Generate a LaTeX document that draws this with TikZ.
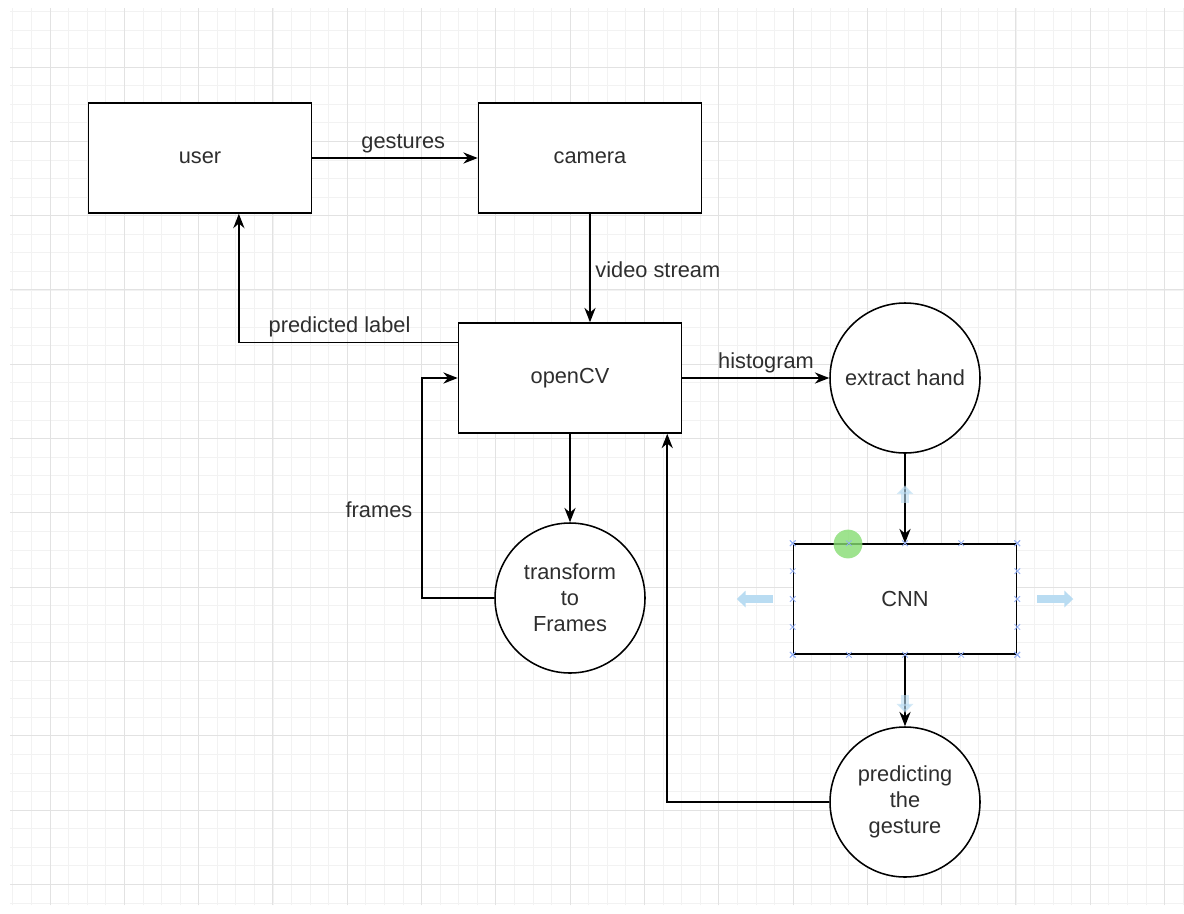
\documentclass[tikz,border=0pt]{standalone}
\usepackage{fontspec}
\setmainfont{Liberation Sans}
\usetikzlibrary{arrows.meta, positioning, calc}
\definecolor{gridMinor}{HTML}{F2F2F2}
\definecolor{gridMajor}{HTML}{E2E2E2}
\definecolor{selBlue}{HTML}{B9DCF2}
\definecolor{selGreen}{HTML}{86DD72}
\definecolor{txtGray}{HTML}{2E2E2E}

\begin{document}
\begin{tikzpicture}[
    every node/.style={font=\fontsize{15.5}{18.5}\selectfont, text=txtGray},
    block/.style={draw, line width=1.1pt, fill=white, minimum height=27.5mm, minimum width=55.75mm},
    proc/.style={draw, circle, line width=1.1pt, fill=white, minimum size=37.5mm, align=center, inner sep=0pt},
    flow/.style={-{Stealth[length=3.6mm, width=2.8mm]}, line width=1.1pt},
    handle/.style={selBlue!80!blue, line width=0.6pt},
    hint/.style={-{Triangle[length=2.2mm, width=4mm]}, selBlue, line width=2.2mm}
  ]
    \useasboundingbox[fill=white] (0,0) rectangle (29.6,-22.825);

    % background grid
    \begin{scope}[shift={(1.25,-1.675)}]
      \draw[gridMinor, line width=0.5pt] (-1.0,-20.95) grid[step=0.464375] (28.35,1.475);
      \draw[gridMajor, line width=0.6pt] (-1.0,-20.95) grid[step=1.8575] (28.35,1.475);
    \end{scope}

    % boxes and circles
    \node[block] (user) at (5,-3.95) {user};
    \node[block] (camera) at (14.75,-3.95) {camera};
    \node[block] (ocv) at (14.25,-9.45) {openCV};
    \node[proc] (hand) at (22.625,-9.45) {extract hand};
    \node[block] (cnn) at (22.625,-14.975) {CNN};
    \node[proc] (pred) at (22.625,-20.05) {predicting\\the\\gesture};
    \node[proc] (trans) at (14.25,-14.95) {transform\\to\\Frames};

    % connectors
    \draw[flow] (user.east) -- node[above, pos=0.55] {gestures} (camera.west);
    \draw[flow] (camera.south) -- node[right, pos=0.52] {video stream} (camera.south |- ocv.north);
    \draw[flow] ($(ocv.north west)!0.18!(ocv.south west)$) -| node[above, pos=0.27] {predicted label} ($(user.south west)!0.673!(user.south east)$);
    \draw[flow] (ocv.east) -- node[above, pos=0.57] {histogram} (hand.west);
    \draw[flow] (hand.south) -- (cnn.north);
    \draw[flow] (cnn.south) -- (pred.north);
    \draw[flow] (pred.west) -| ($(ocv.south west)!0.933!(ocv.south east)$);
    \draw[flow] (ocv.south) -- (trans.north);
    \draw[flow] (trans.west) -| node[left, pos=0.70, xshift=-1mm] {frames} ($(ocv.west)+(-0.9,0)$) -- (ocv.west);

    % selection marks round CNN
    \fill[selGreen, opacity=0.8] (21.2,-13.6) circle (0.36);
    \foreach \fx in {0,0.25,0.5,0.75,1} {
      \draw[handle] ($(cnn.north west)!\fx!(cnn.north east)$) ++(-0.07,-0.07) -- ++(0.14,0.14) ++(-0.14,0) -- ++(0.14,-0.14);
      \draw[handle] ($(cnn.south west)!\fx!(cnn.south east)$) ++(-0.07,-0.07) -- ++(0.14,0.14) ++(-0.14,0) -- ++(0.14,-0.14);
      \draw[handle] ($(cnn.north west)!\fx!(cnn.south west)$) ++(-0.07,-0.07) -- ++(0.14,0.14) ++(-0.14,0) -- ++(0.14,-0.14);
      \draw[handle] ($(cnn.north east)!\fx!(cnn.south east)$) ++(-0.07,-0.07) -- ++(0.14,0.14) ++(-0.14,0) -- ++(0.14,-0.14);
    }
    \draw[hint] ($(cnn.west)+(-0.5,0)$) -- ++(-0.9,0);
    \draw[hint] ($(cnn.east)+(0.5,0)$) -- ++(0.9,0);
    \draw[hint, opacity=0.6] ($(cnn.north)+(0,1.0)$) -- ++(0,0.45);
    \draw[hint, opacity=0.6] ($(cnn.south)+(0,-1.0)$) -- ++(0,-0.45);
  \end{tikzpicture}
\end{document}
